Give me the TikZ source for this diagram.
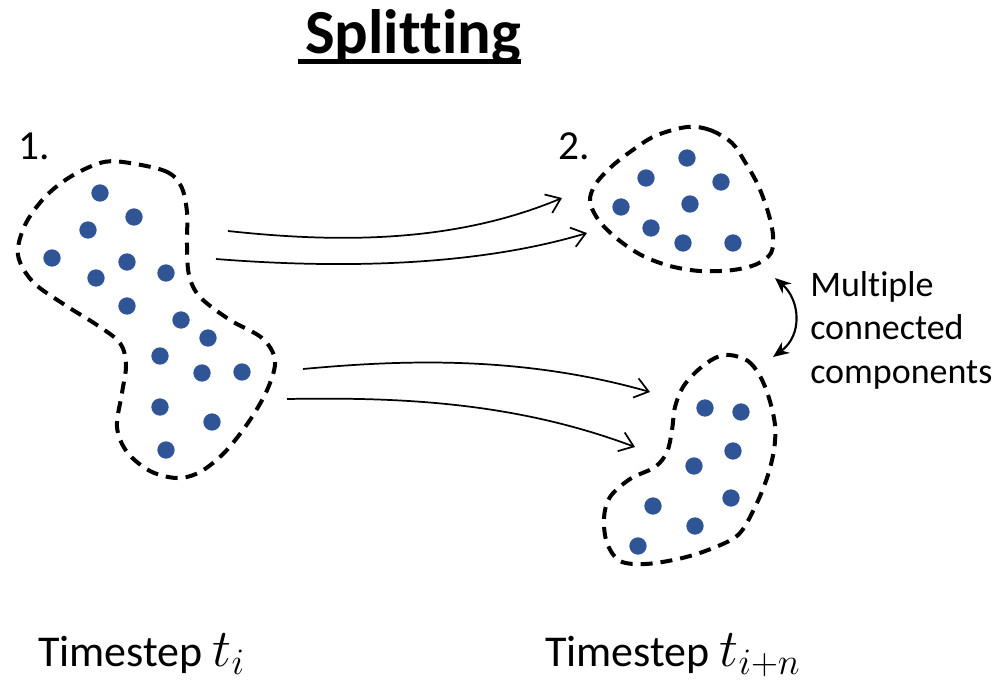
\RequirePackage{fix-cm}
\documentclass[tikz,border=0pt]{standalone}
\usepackage{fontspec}
\setmainfont{Carlito}[Ligatures=NoCommon]
\usetikzlibrary{arrows.meta}

\definecolor{dotblue}{RGB}{47,85,151}
\newcommand{\bigmath}[1]{{\fontsize{40}{48}\selectfont$#1$}}

\begin{document}
\begin{tikzpicture}[x=0.75pt, y=-0.75pt,
  pt/.style={circle, fill=dotblue, inner sep=0pt, minimum size=13pt},
  blob/.style={black, line width=3pt, dash pattern=on 9pt off 6pt, line join=round},
  flow/.style={black, line width=1.3pt, -{Straight Barb[length=10pt, width=15pt, line width=1.3pt]}},
  lbl/.style={inner sep=0pt, font=\fontsize{33}{40}\selectfont}]
  \useasboundingbox (0,0) rectangle (1001,683);
  \node[anchor=base west, inner sep=0pt, font=\fontsize{47}{56}\selectfont\bfseries] (title) at (305,53) {Splitting};
  \draw[black, line width=3.75pt] ([xshift=-5.25pt, yshift=-6pt]title.base west) -- ([yshift=-6pt]title.base east);
  \node[lbl, font=\fontsize{31}{37}\selectfont, anchor=base west] (one) at (18,159) {1.};
  \node[lbl, font=\fontsize{31}{37}\selectfont, anchor=base west] (two) at (558,159) {2.};
  \node[lbl, anchor=base west] (ti) at (38,666) {Timestep \bigmath{t_i}};
  \node[lbl, anchor=base west] (tin) at (545,666) {Timestep \bigmath{t_{i+n}}};
  \node[anchor=base west, inner sep=0pt, align=left, font=\fontsize{27}{32.5}\selectfont] (multi) at (810,383) {Multiple\\connected\\components};
  \draw[blob] plot[smooth cycle, tension=0.55] coordinates {(123,162) (165,171) (181,186) (187,212) (187,245) (189,275) (200,297) (230,320) (262,338) (275,360) (268,388) (250,420) (225,452) (200,472) (177,478) (150,471) (127,452) (117,427) (122,393) (126,365) (120,343) (97,325) (65,305) (33,282) (18,255) (25,225) (45,197) (70,177) (100,163)};
  \draw[blob] plot[smooth cycle, tension=0.55] coordinates {(687,127) (710,130) (732,143) (745,162) (758,185) (768,212) (773,235) (771,253) (757,264) (733,270) (700,271) (670,266) (643,256) (620,241) (600,222) (590,202) (595,185) (610,168) (630,152) (655,136)};
  \draw[blob] plot[smooth cycle, tension=0.55] coordinates {(730,355) (748,361) (760,376) (769,398) (775,425) (774,450) (767,478) (755,507) (738,535) (708,550) (678,559) (645,564) (620,561) (607,543) (604,518) (610,497) (630,479) (655,467) (667,452) (672,430) (675,407) (683,387) (698,370) (715,358)};
  \node[pt] (a1) at (100,193) {};
  \node[pt] (a2) at (134,217) {};
  \node[pt] (a3) at (88,230) {};
  \node[pt] (a4) at (52,258) {};
  \node[pt] (a5) at (127,262) {};
  \node[pt] (a6) at (96,278) {};
  \node[pt] (a7) at (166,273) {};
  \node[pt] (a8) at (127,306) {};
  \node[pt] (a9) at (181,320) {};
  \node[pt] (a10) at (208,338) {};
  \node[pt] (a11) at (160,356) {};
  \node[pt] (a12) at (202,373) {};
  \node[pt] (a13) at (242,372) {};
  \node[pt] (a14) at (160,407) {};
  \node[pt] (a15) at (212,422) {};
  \node[pt] (a16) at (166,450) {};
  \node[pt] (b1) at (687,158) {};
  \node[pt] (b2) at (646,178) {};
  \node[pt] (b3) at (721,182) {};
  \node[pt] (b4) at (621,207) {};
  \node[pt] (b5) at (690,204) {};
  \node[pt] (b6) at (651,228) {};
  \node[pt] (b7) at (683,243) {};
  \node[pt] (b8) at (733,243) {};
  \node[pt] (c1) at (705,408) {};
  \node[pt] (c2) at (741,412) {};
  \node[pt] (c3) at (733,451) {};
  \node[pt] (c4) at (694,466) {};
  \node[pt] (c5) at (731,498) {};
  \node[pt] (c6) at (653,506) {};
  \node[pt] (c7) at (695,526) {};
  \node[pt] (c8) at (638,546) {};
  \coordinate (s1) at (228,231);
  \coordinate (e1) at (562,198);
  \coordinate (s2) at (216,259);
  \coordinate (e2) at (587,233);
  \coordinate (s3) at (303,369);
  \coordinate (e3) at (650,392);
  \coordinate (s4) at (287,399);
  \coordinate (e4) at (635,447);
  \coordinate (up) at (775,278);
  \coordinate (down) at (773,357);
  \draw[flow] (s1) .. controls (330,242) and (450,245) .. (e1);
  \draw[flow] (s2) .. controls (330,268) and (470,268) .. (e2);
  \draw[flow] (s3) .. controls (400,360) and (520,355) .. (e3);
  \draw[flow] (s4) .. controls (400,397) and (515,402) .. (e4);
  \draw[black, line width=1.6pt, {Stealth[length=12pt, width=10pt]}-{Stealth[length=12pt, width=10pt]}] (up) .. controls (800,300) and (803,335) .. (down);
\end{tikzpicture}
\end{document}
